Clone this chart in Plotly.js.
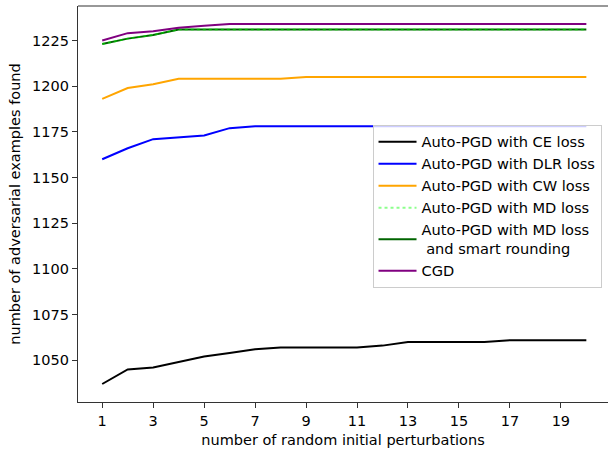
<!DOCTYPE html>
<html>
<head>
<meta charset="utf-8">
<script src="https://cdn.plot.ly/plotly-3.0.1.min.js"></script>
<style>html,body{margin:0;padding:0;background:#fff;}#chart{width:608px;height:451px;}</style>
</head>
<body>
<div id="chart"></div>
<script>
const perturbations = [1,2,3,4,5,6,7,8,9,10,11,12,13,14,15,16,17,18,19,20];
const ceLoss  = [1037,1045,1046,1049,1052,1054,1056,1057,1057,1057,1057,1058,1060,1060,1060,1060,1061,1061,1061,1061];
const dlrLoss = [1160,1166,1171,1172,1173,1177,1178,1178,1178,1178,1178,1178,1178,1178,1178,1178,1178,1178,1178,1178];
const cwLoss  = [1193,1199,1201,1204,1204,1204,1204,1204,1205,1205,1205,1205,1205,1205,1205,1205,1205,1205,1205,1205];
const mdLoss  = [1223,1226,1228,1231,1231,1231,1231,1231,1231,1231,1231,1231,1231,1231,1231,1231,1231,1231,1231,1231];
const mdSmart = [1223,1226,1228,1231,1231,1231,1231,1231,1231,1231,1231,1231,1231,1231,1231,1231,1231,1231,1231,1231];
const cgd     = [1225,1229,1230,1232,1233,1234,1234,1234,1234,1234,1234,1234,1234,1234,1234,1234,1234,1234,1234,1234];
const xTicks = [1,3,5,7,9,11,13,15,17,19];
const yTicks = [1050,1075,1100,1125,1150,1175,1200,1225];
const names = ['Auto-PGD with CE loss','Auto-PGD with DLR loss','Auto-PGD with CW loss','Auto-PGD with MD loss','Auto-PGD with MD loss<br> and smart rounding','CGD'];

const traces = [
  {x: perturbations, y: ceLoss, name: names[0], line:{color:'#000000', width:2}, legendrank:1},
  {x: perturbations, y: dlrLoss, name: names[1], line:{color:'#0000ff', width:2}, legendrank:2},
  {x: perturbations, y: cwLoss, name: names[2], line:{color:'#ffa500', width:2}, legendrank:3},
  {x: perturbations, y: mdSmart, name: names[4], line:{color:'#006400', width:2}, legendrank:5},
  {x: perturbations, y: mdLoss, name: names[3], line:{color:'#00ff00', width:2, dash:'dot'}, opacity:0.45, legendrank:4},
  {x: perturbations, y: cgd, name: names[5], line:{color:'#800080', width:2}, legendrank:6}
].map(t => Object.assign({type:'scatter', mode:'lines', hoverinfo:'skip'}, t));

const font = {family:'DejaVu Sans, sans-serif', size:14.5, color:'#000'};
const legendFont = {family:'DejaVu Sans, sans-serif', size:14.6, color:'#000'};
const layout = {
  width:608, height:451,
  margin:{l:77.5, r:0, t:5.5, b:48.7, pad:0},
  paper_bgcolor:'#fff', plot_bgcolor:'#fff',
  font: font,
  showlegend:true,
  legend:{x:0.5557, y:0.700, xanchor:'left', yanchor:'top', itemwidth:38, bgcolor:'rgba(255,255,255,0.8)', bordercolor:'#cccccc', borderwidth:1, font:legendFont},
  xaxis:{range:[0.05,20.85], tickvals:xTicks, ticktext:xTicks.map(String), showgrid:false, zeroline:false,
    showline:true, linecolor:'#333', linewidth:1.1, ticks:'outside', ticklen:5, tickwidth:1, tickcolor:'#333',
    title:{text:'number of random initial perturbations', font:font, standoff:7}, tickfont:font},
  yaxis:{range:[1027.15,1243.85], tickvals:yTicks, ticktext:yTicks.map(String), showgrid:false, zeroline:false,
    showline:true, linecolor:'#333', linewidth:1.1, ticks:'outside', ticklen:5, tickwidth:1, tickcolor:'#333',
    title:{text:'number of adversarial examples found', font:font, standoff:8}, tickfont:font},
  shapes:[{type:'line', xref:'paper', yref:'paper', x0:0, x1:1, y0:1, y1:1, line:{color:'#333', width:1.1}}]
};
Plotly.newPlot('chart', traces, layout, {staticPlot:true, displayModeBar:false});
</script>
</body>
</html>
